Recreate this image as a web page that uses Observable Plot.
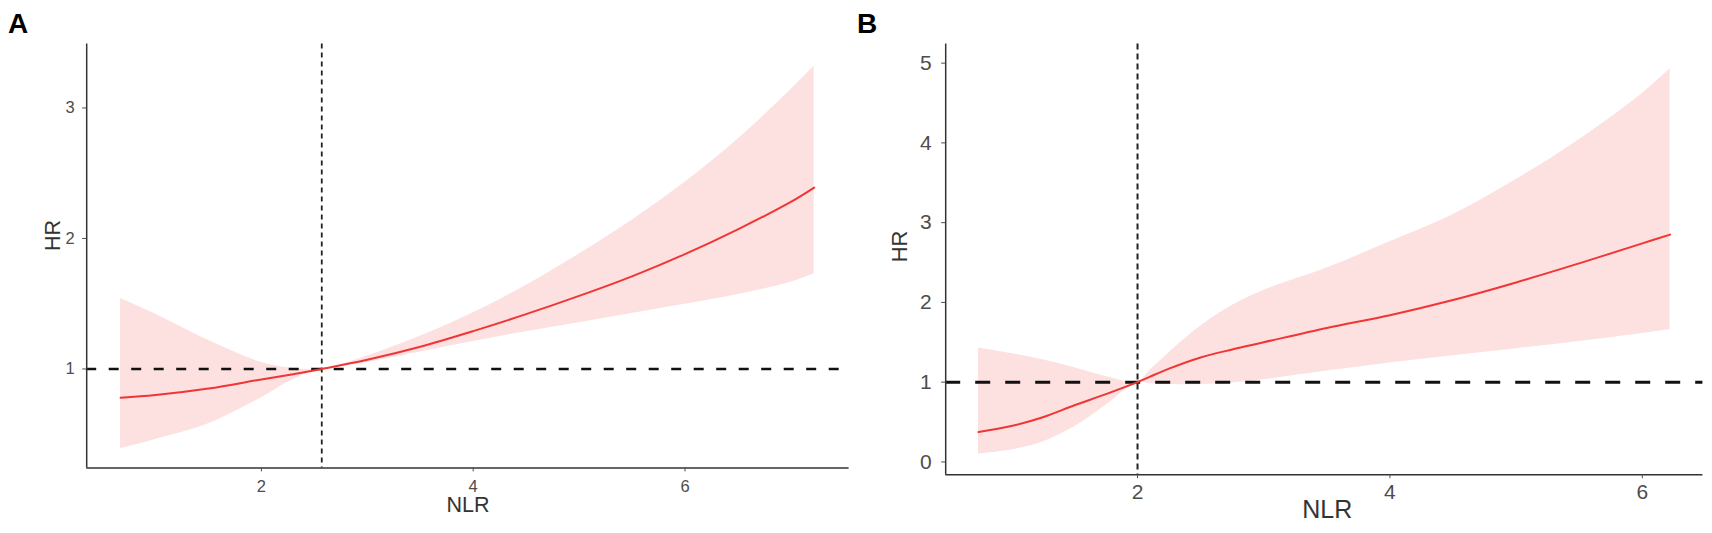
<!DOCTYPE html>
<html><head><meta charset="utf-8">
<script src="https://cdn.jsdelivr.net/npm/d3@7"></script>
<script src="https://cdn.jsdelivr.net/npm/@observablehq/plot@0.6"></script>
<style>
html,body{margin:0;padding:0;background:#fff;}
#wrap{position:relative;width:1712px;height:533px;overflow:hidden;font-family:"Liberation Sans",Arial,sans-serif;background:#fff;}
.panel{position:absolute;top:0;}
.tag{position:absolute;top:10px;font-weight:bold;font-size:28px;line-height:28px;color:#000;font-family:"Liberation Sans",Arial,sans-serif;}
</style></head><body>
<div id="wrap">
  <div id="pa" class="panel" style="left:0px"></div>
  <div id="pb" class="panel" style="left:870px"></div>
  <div class="tag" style="left:8px">A</div>
  <div class="tag" style="left:857px">B</div>
</div>
<script>
// ---- Panel A data ----
const nlrA   = [0.67, 1.0, 1.5, 2.0, 2.3, 2.57, 3.0, 3.5, 4.0, 4.5, 5.0, 5.5, 6.0, 6.5, 7.0, 7.22];
const hrA    = [0.78, 0.80, 0.85, 0.92, 0.96, 1.00, 1.07, 1.17, 1.29, 1.42, 1.56, 1.71, 1.88, 2.07, 2.28, 2.39];
const upperA = [1.54, 1.42, 1.22, 1.05, 1.005, 1.00, 1.10, 1.25, 1.43, 1.64, 1.88, 2.14, 2.43, 2.76, 3.14, 3.32];
const lowerA = [0.39, 0.46, 0.58, 0.78, 0.92, 1.00, 1.05, 1.13, 1.21, 1.285, 1.355, 1.425, 1.495, 1.57, 1.665, 1.73];
const refXA = [2.57];
const xTicksA = [2, 4, 6];
const yTicksA = [1, 2, 3];

// ---- Panel B data ----
const nlrB   = [0.74, 1.0, 1.25, 1.5, 1.75, 2.0, 2.1, 2.25, 2.5, 2.75, 3.0, 3.5, 4.0, 4.5, 5.0, 5.5, 6.0, 6.22];
const hrB    = [0.375, 0.45, 0.56, 0.71, 0.85, 1.00, 1.07, 1.17, 1.31, 1.41, 1.50, 1.68, 1.84, 2.03, 2.25, 2.49, 2.74, 2.85];
const upperB = [1.43, 1.36, 1.28, 1.18, 1.07, 1.00, 1.15, 1.37, 1.70, 1.96, 2.15, 2.43, 2.76, 3.10, 3.54, 4.04, 4.62, 4.93];
const lowerB = [0.10, 0.15, 0.25, 0.44, 0.71, 1.00, 0.98, 0.97, 0.97, 0.99, 1.03, 1.14, 1.24, 1.33, 1.42, 1.51, 1.61, 1.66];
const refXB = [2];
const xTicksB = [2, 4, 6];
const yTicksB = [0, 1, 2, 3, 4, 5];

const refY = [1];
const xLabel = "NLR";
const yLabel = "HR";

function panel(o) {
  const rows = o.x.map((v, i) => ({x: v, hr: o.mid[i], lo: o.lo[i], hi: o.hi[i]}));
  return Plot.plot({
    width: o.width, height: 533,
    marginLeft: o.ml, marginRight: o.mr, marginTop: o.mt, marginBottom: o.mb,
    style: {fontFamily: "'Liberation Sans', Arial, sans-serif", background: "transparent", overflow: "visible"},
    x: {domain: o.xDomain},
    y: {domain: o.yDomain},
    marks: [
      Plot.areaY(rows, {x: "x", y1: "lo", y2: "hi", fill: "#fde0e0", curve: "catmull-rom"}),
      Plot.ruleY(refY, {stroke: "#111", strokeWidth: o.hWidth, strokeDasharray: o.hDash}),
      Plot.ruleX(o.refX, {stroke: "#222", strokeWidth: o.vWidth, strokeDasharray: o.vDash}),
      Plot.line(rows, {x: "x", y: "hr", stroke: "#f03535", strokeWidth: 2, curve: "catmull-rom"}),
      Plot.ruleX([o.xDomain[0]], {stroke: "#333", strokeWidth: 1.5}),
      Plot.ruleY([o.yDomain[0]], {stroke: "#333", strokeWidth: 1.5}),
      Plot.axisX({ticks: o.xTicks, tickSize: 4, tickPadding: o.xPad, fontSize: o.tickFont, color: "#4d4d4d", label: null, tickFormat: d => String(d)}),
      Plot.axisY({ticks: o.yTicks, tickSize: 4, tickPadding: o.yPad, fontSize: o.tickFont, color: "#4d4d4d", label: null, tickFormat: d => String(d)}),
      Plot.text([xLabel], {frameAnchor: "bottom", text: d => d, dx: o.xlDx, dy: o.xlDy, fontSize: o.xlFont, fill: "#333"}),
      Plot.text([yLabel], {frameAnchor: "left", text: d => d, dx: o.ylDx, dy: o.ylDy, rotate: -90, fontSize: o.labelFont, fill: "#333"})
    ]
  });
}

const plotA = panel({
  x: nlrA, mid: hrA, lo: lowerA, hi: upperA, refX: refXA,
  xDomain: [0.35, 7.55], yDomain: [0.242, 3.49], xTicks: xTicksA, yTicks: yTicksA,
  width: 870, ml: 86.2, mr: 870 - 848.6, mt: 43.5, mb: 533 - 467.4,
  tickFont: 16.5, xPad: 8.5, yPad: 8, labelFont: 21.5, xlFont: 21.5,
  xlDx: 0, xlDy: 44.5, ylDx: -34, ylDy: -5,
  hDash: "10,12.5", hWidth: 2.6, vDash: "5,4", vWidth: 1.8
});
const plotB = panel({
  x: nlrB, mid: hrB, lo: lowerB, hi: upperB, refX: refXB,
  xDomain: [0.48, 6.48], yDomain: [-0.16, 5.24], xTicks: xTicksB, yTicks: yTicksB,
  width: 842, ml: 945.2 - 870, mr: 1712 - 1702.4, mt: 43.5, mb: 533 - 474.2,
  tickFont: 21, xPad: 5, yPad: 10, labelFont: 22, xlFont: 25,
  xlDx: 3, xlDy: 43.5, ylDx: -46, ylDy: 3,
  hDash: "15,15", hWidth: 3, vDash: "6,4", vWidth: 2
});
document.getElementById("pa").appendChild(plotA);
document.getElementById("pb").appendChild(plotB);
</script>
</body></html>
